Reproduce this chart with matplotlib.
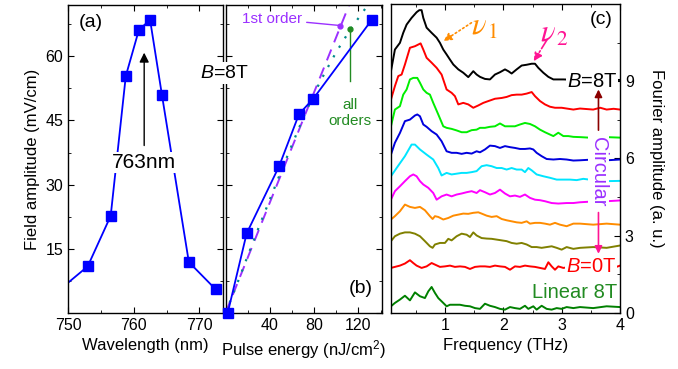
import numpy as np
import matplotlib
matplotlib.use('Agg')
import matplotlib.pyplot as plt
from matplotlib.ticker import MultipleLocator

plt.rcParams['font.family'] = ['Liberation Sans', 'DejaVu Sans']
plt.rcParams['mathtext.fontset'] = 'custom'
plt.rcParams['mathtext.rm'] = 'Liberation Sans'
plt.rcParams['mathtext.it'] = 'Liberation Sans:italic'
plt.rcParams['mathtext.bf'] = 'Liberation Sans:bold'

# --- (a) field amplitude vs wavelength ---
wavelength = [748.0, 753.0, 756.5, 758.8, 760.8, 762.5, 764.3, 768.4, 772.5]
field_a = [4.5, 10.9, 22.7, 55.4, 66.2, 68.5, 51.0, 11.9, 5.5]

# --- (b) field amplitude vs pulse energy ---
energy = [2.0, 19.1, 48.4, 66.4, 79.3, 132.0]
field_b = [0.0, 18.6, 34.3, 46.5, 50.1, 68.5]
first_order_E = [0, 140]
first_order_F = [0, 90.3]
all_orders_E = [0, 10, 20, 30, 40, 50, 60, 70, 80, 90, 100, 113, 130, 140]
all_orders_F = [0, 6.5, 13.3, 20.0, 26.5, 33.0, 39.3, 45.5, 51.3, 56.3, 61.0, 66.4, 72.5, 76.0]

# --- (c) Fourier spectra, offset ---
f_black = [0.069, 0.137, 0.223, 0.280, 0.338, 0.423, 0.509, 0.555, 0.595, 0.624, 0.681, 0.767, 0.853,
           0.910, 0.967, 1.024, 1.082, 1.139, 1.225, 1.310, 1.396, 1.482, 1.539, 1.597, 1.682, 1.768,
           1.854, 1.940, 2.026, 2.083, 2.140, 2.226, 2.312, 2.398, 2.484, 2.541, 2.598, 2.684, 2.770,
           2.856, 2.941, 3.027, 3.3, 3.6, 4.0]
a_black = [9.39, 10.23, 10.49, 10.88, 11.20, 11.46, 11.68, 11.76, 11.76, 11.46, 11.08, 10.88, 10.69,
           10.49, 10.23, 10.04, 9.84, 9.65, 9.46, 9.33, 9.16, 9.39, 9.26, 9.17, 9.09, 9.07,
           9.26, 9.35, 9.46, 9.39, 9.30, 9.46, 9.61, 9.64, 9.68, 9.68, 9.52, 9.33, 9.17,
           9.07, 9.07, 9.07, 9.05, 9.05, 9.05]

f_red8 = [0.069, 0.137, 0.195, 0.252, 0.309, 0.395, 0.481, 0.578, 0.624, 0.681, 0.767, 0.853, 0.938,
          1.024, 1.110, 1.167, 1.225, 1.310, 1.396, 1.482, 1.568, 1.654, 1.740, 1.854, 1.969, 2.054,
          2.140, 2.226, 2.312, 2.398, 2.484, 2.541, 2.627, 2.712, 2.798, 2.884, 2.998, 3.113, 3.199,
          3.313, 3.54, 3.66, 3.77, 3.89, 4.0]
a_red8 = [8.29, 8.81, 9.20, 9.26, 9.65, 10.30, 10.36, 10.47, 10.23, 9.91, 9.72, 9.52, 9.26,
          8.68, 8.55, 8.42, 8.10, 8.16, 8.10, 7.97, 8.06, 8.16, 8.23, 8.32, 8.35, 8.39,
          8.46, 8.48, 8.48, 8.52, 8.58, 8.42, 8.23, 8.10, 8.01, 7.97, 7.97, 7.93, 7.90,
          7.94, 7.90, 7.97, 7.90, 7.93, 7.90]

f_lime = [0.069, 0.137, 0.223, 0.280, 0.338, 0.395, 0.452, 0.521, 0.567, 0.624, 0.681, 0.738, 0.795,
          0.881, 0.967, 1.024, 1.110, 1.196, 1.282, 1.368, 1.454, 1.539, 1.597, 1.682, 1.768, 1.854,
          1.940, 2.026, 2.112, 2.197, 2.283, 2.369, 2.455, 2.541, 2.627, 2.712, 2.798, 2.856, 2.941,
          3.027, 3.113, 3.199, 3.313, 3.54, 3.77, 4.0]
a_lime = [7.25, 7.90, 8.03, 8.48, 8.68, 9.07, 9.13, 9.13, 8.94, 8.68, 8.55, 8.48, 8.16,
          7.71, 7.25, 7.19, 7.15, 7.09, 7.02, 7.02, 7.10, 7.12, 7.19, 7.19, 7.23, 7.25,
          7.36, 7.25, 7.25, 7.25, 7.32, 7.38, 7.34, 7.25, 7.12, 7.02, 6.93, 6.87, 7.00,
          6.87, 6.87, 6.84, 6.83, 6.80, 6.83, 6.81]

f_blue = [0.069, 0.137, 0.223, 0.309, 0.395, 0.481, 0.521, 0.567, 0.624, 0.681, 0.767, 0.853, 0.938,
          1.024, 1.110, 1.196, 1.282, 1.368, 1.454, 1.539, 1.597, 1.682, 1.768, 1.854, 1.940, 2.026,
          2.112, 2.197, 2.283, 2.369, 2.455, 2.512, 2.569, 2.655, 2.741, 2.856, 2.970, 3.084, 3.199,
          3.313, 3.54, 3.77, 4.0]
a_blue = [6.15, 6.61, 6.99, 7.45, 7.51, 7.67, 7.71, 7.64, 7.32, 7.23, 7.06, 6.93, 6.67,
          6.28, 6.22, 6.22, 6.18, 6.22, 6.19, 6.28, 6.24, 6.35, 6.50, 6.48, 6.41, 6.48,
          6.44, 6.41, 6.37, 6.37, 6.39, 6.35, 6.22, 6.09, 5.98, 5.96, 5.98, 5.96, 5.92,
          5.93, 5.96, 5.93, 5.96]

f_cyan = [0.069, 0.166, 0.309, 0.423, 0.481, 0.567, 0.681, 0.795, 0.881, 0.938, 1.024, 1.110, 1.196,
          1.282, 1.368, 1.454, 1.539, 1.625, 1.711, 1.797, 1.883, 1.969, 2.054, 2.140, 2.226, 2.312,
          2.369, 2.426, 2.484, 2.569, 2.684, 2.798, 2.913, 3.027, 3.142, 3.256, 3.370, 3.54, 3.77, 4.0]
a_cyan = [5.31, 5.63, 6.09, 6.54, 6.54, 6.35, 6.15, 5.96, 5.63, 5.34, 5.44, 5.38, 5.41,
          5.44, 5.44, 5.47, 5.51, 5.70, 5.74, 5.70, 5.63, 5.63, 5.57, 5.63, 5.57, 5.57,
          5.47, 5.63, 5.54, 5.38, 5.31, 5.25, 5.18, 5.18, 5.18, 5.16, 5.21, 5.16, 5.12, 5.13]

f_magenta = [0.069, 0.137, 0.223, 0.309, 0.395, 0.452, 0.509, 0.567, 0.624, 0.710, 0.795, 0.853, 0.938,
             1.024, 1.110, 1.196, 1.282, 1.368, 1.454, 1.539, 1.597, 1.682, 1.768, 1.854, 1.940, 2.026,
             2.112, 2.197, 2.283, 2.369, 2.455, 2.541, 2.627, 2.712, 2.827, 2.941, 3.084, 3.199, 3.313,
             3.54, 3.77, 4.0]
a_magenta = [4.40, 4.73, 4.92, 5.12, 5.31, 5.38, 5.31, 5.12, 4.99, 4.86, 4.66, 4.40, 4.53,
             4.60, 4.53, 4.60, 4.64, 4.69, 4.73, 4.66, 4.77, 4.69, 4.60, 4.66, 4.79, 4.64,
             4.53, 4.56, 4.51, 4.60, 4.47, 4.40, 4.38, 4.34, 4.27, 4.25, 4.27, 4.27, 4.30,
             4.33, 4.34, 4.37]

f_orange = [0.069, 0.137, 0.223, 0.309, 0.395, 0.481, 0.567, 0.652, 0.738, 0.784, 0.824, 0.881, 0.967,
            1.053, 1.139, 1.225, 1.310, 1.396, 1.482, 1.568, 1.625, 1.711, 1.797, 1.883, 1.969, 2.054,
            2.140, 2.226, 2.312, 2.398, 2.455, 2.541, 2.627, 2.712, 2.798, 2.884, 2.970, 3.084, 3.199,
            3.313, 3.54, 3.77, 4.0]
a_orange = [3.63, 3.76, 3.95, 4.21, 4.12, 4.08, 4.12, 3.99, 3.76, 3.65, 3.76, 3.73, 3.63,
            3.69, 3.78, 3.82, 3.86, 3.85, 3.89, 3.91, 3.86, 3.78, 3.73, 3.76, 3.65, 3.60,
            3.56, 3.52, 3.50, 3.56, 3.47, 3.50, 3.50, 3.47, 3.43, 3.50, 3.43, 3.37, 3.47,
            3.47, 3.43, 3.47, 3.43]

f_olive = [0.069, 0.137, 0.223, 0.309, 0.395, 0.481, 0.567, 0.652, 0.738, 0.784, 0.824, 0.910, 0.996,
           1.053, 1.110, 1.196, 1.282, 1.368, 1.425, 1.482, 1.539, 1.625, 1.711, 1.797, 1.883, 1.969,
           2.054, 2.140, 2.226, 2.312, 2.398, 2.484, 2.569, 2.655, 2.741, 2.827, 2.913, 2.998, 3.084,
           3.199, 3.313, 3.54, 3.77, 4.0]
a_olive = [2.79, 2.98, 3.08, 3.13, 3.13, 3.08, 2.98, 2.79, 2.59, 2.53, 2.66, 2.72, 2.72,
           2.88, 2.82, 2.98, 3.08, 3.04, 2.95, 3.13, 3.01, 2.91, 2.89, 2.88, 2.85, 2.82,
           2.79, 2.72, 2.69, 2.72, 2.66, 2.56, 2.56, 2.53, 2.56, 2.59, 2.53, 2.46, 2.56,
           2.49, 2.53, 2.56, 2.53, 2.62]

f_red0 = [0.069, 0.137, 0.223, 0.309, 0.395, 0.452, 0.509, 0.595, 0.681, 0.767, 0.824, 0.910, 0.996,
          1.082, 1.167, 1.253, 1.339, 1.425, 1.511, 1.597, 1.682, 1.768, 1.854, 1.940, 2.026, 2.112,
          2.197, 2.283, 2.369, 2.455, 2.541, 2.627, 2.712, 2.770, 2.827, 2.884, 2.941, 3.027, 3.199,
          3.43, 3.66, 3.89, 4.0]
a_red0 = [1.75, 1.79, 1.84, 1.92, 2.05, 1.94, 1.84, 1.75, 1.81, 1.94, 1.88, 1.79, 1.81,
          1.84, 1.79, 1.81, 1.79, 1.71, 1.79, 1.81, 1.81, 1.79, 1.84, 1.81, 1.79, 1.68,
          1.81, 1.79, 1.84, 1.81, 1.79, 1.75, 1.71, 1.97, 1.81, 1.68, 1.81, 1.75, 1.81,
          1.79, 1.81, 1.75, 1.84]

f_linear = [0.069, 0.137, 0.223, 0.309, 0.395, 0.481, 0.567, 0.652, 0.710, 0.767, 0.824, 0.881, 0.967,
            1.024, 1.082, 1.167, 1.253, 1.339, 1.425, 1.511, 1.597, 1.682, 1.768, 1.854, 1.940, 2.026,
            2.112, 2.197, 2.283, 2.369, 2.426, 2.512, 2.569, 2.655, 2.741, 2.827, 2.913, 2.998, 3.084,
            3.199, 3.313, 3.54, 3.77, 4.0]
a_linear = [0.26, 0.39, 0.52, 0.67, 0.49, 0.80, 0.65, 0.58, 0.84, 1.01, 0.78, 0.58, 0.39,
            0.26, 0.32, 0.32, 0.32, 0.28, 0.26, 0.19, 0.16, 0.36, 0.28, 0.23, 0.16, 0.13,
            0.23, 0.19, 0.16, 0.28, 0.16, 0.26, 0.13, 0.28, 0.16, 0.13, 0.19, 0.16, 0.23,
            0.19, 0.23, 0.19, 0.26, 0.23]

spectra = [
    (f_black, a_black, 'black'),
    (f_red8, a_red8, '#ff0000'),
    (f_lime, a_lime, '#00ee00'),
    (f_blue, a_blue, '#0000dd'),
    (f_cyan, a_cyan, '#00e5ff'),
    (f_magenta, a_magenta, '#ff00ff'),
    (f_orange, a_orange, '#ff8c00'),
    (f_olive, a_olive, '#808000'),
    (f_red0, a_red0, '#ff0000'),
    (f_linear, a_linear, '#008000'),
]


def style_axes(ax):
    ax.tick_params(which='both', direction='in', top=True, right=True, labelsize=11.5)
    ax.tick_params(which='major', length=4)
    ax.tick_params(which='minor', length=2.5)
    for s in ax.spines.values():
        s.set_linewidth(1.0)


fig = plt.figure(figsize=(6.78, 3.69), dpi=100)
ax_a = fig.add_axes([0.1003, 0.1518, 0.2286, 0.8347])
ax_b = fig.add_axes([0.3326, 0.1518, 0.2308, 0.8347])
ax_c = fig.add_axes([0.5767, 0.1518, 0.3378, 0.8374])

# --- panel (a) ---
ax_a.plot(wavelength, field_a, '-s', color='#0000ff', lw=1.3, ms=7)
ax_a.set_xlim(750, 773.6)
ax_a.set_ylim(0, 72)
ax_a.xaxis.set_major_locator(MultipleLocator(10))
ax_a.xaxis.set_minor_locator(MultipleLocator(5))
ax_a.yaxis.set_major_locator(MultipleLocator(15))
ax_a.yaxis.set_minor_locator(MultipleLocator(7.5))
ax_a.set_yticks([15, 30, 45, 60])
style_axes(ax_a)
ax_a.set_xlabel('Wavelength (nm)', fontsize=12, labelpad=4)
ax_a.set_ylabel('Field amplitude (mV/cm)', fontsize=12, labelpad=4)
ax_a.text(753.4, 68, '(a)', fontsize=14, ha='center', va='center')
ax_a.annotate('', xy=(761.6, 61.5), xytext=(761.6, 38.5),
              arrowprops=dict(arrowstyle='-|>', color='black', lw=1.0, mutation_scale=14))
ax_a.text(761.6, 35.2, '763nm', fontsize=15, ha='center', va='center',
          bbox=dict(facecolor='white', edgecolor='none', pad=0.5))

# --- panel (b) ---
ax_b.plot(first_order_E, first_order_F, color='#9b30ff', lw=1.4, ls=(0, (6, 4)))
ax_b.plot(all_orders_E, all_orders_F, color='#008b8b', lw=1.6, ls=(0, (1, 4)))
ax_b.plot(energy, field_b, '-s', color='#0000ff', lw=1.3, ms=7, clip_on=False, zorder=5)
ax_b.set_xlim(0, 141.3)
ax_b.set_ylim(0, 72)
ax_b.set_xticks([40, 80, 120])
ax_b.xaxis.set_minor_locator(MultipleLocator(20))
ax_b.yaxis.set_major_locator(MultipleLocator(15))
ax_b.yaxis.set_minor_locator(MultipleLocator(7.5))
style_axes(ax_b)
ax_b.tick_params(labelleft=False)
ax_b.set_xlabel('Pulse energy (nJ/cm$^2$)', fontsize=12, labelpad=4)
ax_b.text(121.8, 5.7, '(b)', fontsize=14, ha='center', va='center')
ax_b.plot([103.8], [67.2], 'o', color='#9b30ff', ms=3.5)
ax_b.annotate('1st order', xy=(103.5, 67.2), xytext=(42.4, 68.7), fontsize=11,
              color='#9b30ff', ha='center', va='center',
              arrowprops=dict(arrowstyle='-', color='#9b30ff', lw=1.0, shrinkA=1, shrinkB=0))
ax_b.plot([112.8], [66.4], 'o', color='#228b22', ms=3.5)
ax_b.plot([112.8, 112.8], [66.4, 54.2], color='#228b22', lw=1.0)
ax_b.text(112, 46.8, 'all\norders', fontsize=11, color='#228b22', ha='center', va='center',
          linespacing=1.2)

fig.text(224 / 678, 1 - 73 / 369, '$B$=8T', fontsize=14, ha='center', va='center',
         bbox=dict(facecolor='white', edgecolor='none', pad=1.5), zorder=10)

# --- panel (c) ---
for f, a, c in spectra:
    ax_c.plot(f, a, color=c, lw=1.4)
ax_c.set_xlim(0.07, 4)
ax_c.set_ylim(0, 12)
ax_c.set_xticks([1, 2, 3, 4])
ax_c.xaxis.set_minor_locator(MultipleLocator(0.5))
ax_c.set_yticks([0, 3, 6, 9])
ax_c.yaxis.set_minor_locator(MultipleLocator(1.5))
style_axes(ax_c)
ax_c.tick_params(which='both', left=False, labelleft=False, labelright=True)
ax_c.yaxis.set_label_position('right')
ax_c.set_xlabel('Frequency (THz)', fontsize=12, labelpad=4)
ax_c.set_ylabel('Fourier amplitude (a. u.)', fontsize=12, rotation=270, labelpad=22)
ax_c.text(3.67, 11.4, '(c)', fontsize=14, ha='center', va='center')

ax_c.text(1.68, 11.1, r'$\nu_{\,1}$', fontsize=22, color='#ff8c00', ha='center', va='center',
          math_fontfamily='stix')
ax_c.annotate('', xy=(0.97, 10.56), xytext=(1.45, 11.27),
              arrowprops=dict(arrowstyle='-|>', color='#ff8c00', lw=1.2, ls=':',
                              mutation_scale=12, shrinkA=0, shrinkB=0))
ax_c.text(2.88, 10.85, r'$\nu_{\,2}$', fontsize=22, color='#ff1493', ha='center', va='center',
          math_fontfamily='stix')
ax_c.annotate('', xy=(2.52, 9.78), xytext=(2.75, 10.62),
              arrowprops=dict(arrowstyle='-|>', color='#ff1493', lw=1.2, ls='-.',
                              mutation_scale=12, shrinkA=0, shrinkB=0))

wbox = dict(facecolor='white', edgecolor='none', pad=0.8)
ax_c.text(3.52, 9.0, '$B$=8T', fontsize=14.5, color='black', ha='center', va='center', bbox=wbox)
ax_c.text(3.50, 1.8, '$B$=0T', fontsize=14.5, color='#ff0000', ha='center', va='center', bbox=wbox)
ax_c.text(3.22, 0.8, 'Linear 8T', fontsize=14.5, color='#228b22', ha='center', va='center')
ax_c.text(3.63, 5.5, 'Circular', fontsize=14.5, color='#9b30ff', ha='center', va='center',
          rotation=270, bbox=dict(facecolor='white', edgecolor='none', pad=0.5))
ax_c.annotate('', xy=(3.63, 8.68), xytext=(3.63, 7.1),
              arrowprops=dict(arrowstyle='-|>', color='#8b0000', lw=1.2, mutation_scale=11,
                              shrinkA=0, shrinkB=0))
ax_c.annotate('', xy=(3.63, 2.3), xytext=(3.63, 3.9),
              arrowprops=dict(arrowstyle='-|>', color='#ff1493', lw=1.2, mutation_scale=11,
                              shrinkA=0, shrinkB=0))

fig.savefig('out.png', dpi=100)
